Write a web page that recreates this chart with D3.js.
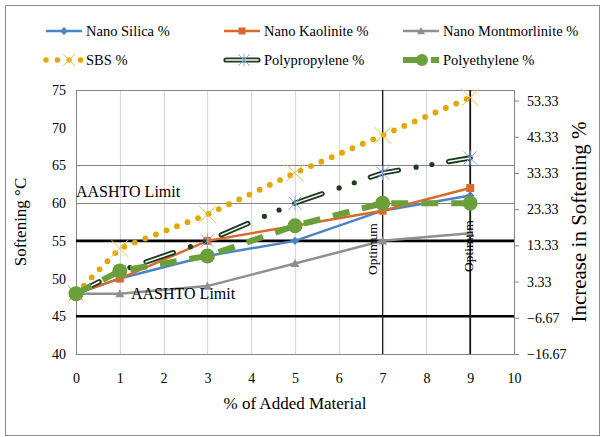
<!DOCTYPE html>
<html>
<head>
<meta charset="utf-8">
<script src="https://cdn.jsdelivr.net/npm/d3@7/dist/d3.min.js"></script>
<style>
  html, body { margin: 0; padding: 0; background: #fff; }
  svg { display: block; }
  svg text { font-family: "Liberation Serif", "Times New Roman", serif !important; fill: #000; }
</style>
</head>
<body>
<svg id="chart" width="605" height="437" font-family="Liberation Serif, serif"></svg>
<script>
// Added material content (%)
const additions = [0, 1, 3, 5, 7, 9];

// Softening point (°C) for each additive
const nanoSilica        = [48, 50, 53, 55, 59, 61];
const nanoKaolinite     = [48, 50, 55, 57, 59, 62];
const nanoMontmorlinite = [48, 48, 49, 52, 55, 56];
const sbs               = [48, 54, 58.5, 64, 69, 74];
const polypropylene     = [48, 51, 55, 60, 64, 66];
const polyethylene      = [48, 51, 53, 57, 60, 60];

const seriesNames = ["Nano Silica %", "Nano Kaolinite %", "Nano Montmorlinite %",
                     "SBS %", "Polypropylene %", "Polyethylene %"];

// Axis ticks
const xTicks = [0, 1, 2, 3, 4, 5, 6, 7, 8, 9, 10];
const leftTicks = [40, 45, 50, 55, 60, 65, 70, 75];
const rightTicks = [-16.67, -6.67, 3.33, 13.33, 23.33, 33.33, 43.33, 53.33];

// Reference lines
const aashtoLimits = [45, 55];
const optimumPoints = [7, 9];
const gridLevels = [60, 65];

const svg = d3.select("#chart");
const serif = "Liberation Serif, Times New Roman, serif";

const x = d3.scaleLinear().domain([0, 10]).range([76, 514]);
const y = d3.scaleLinear().domain([40, 75]).range([354, 90]);
const y2 = d3.scaleLinear().domain([-16.67, 56.25]).range([354, 90]);

// chart frame
svg.append("rect")
  .attr("x", 5.5).attr("y", 5.5).attr("width", 594).attr("height", 430)
  .attr("fill", "#fff").attr("stroke", "#8c8c8c").attr("stroke-width", 1);

// vertical gridlines
svg.append("g").selectAll("line")
  .data(xTicks.filter(d => d > 0))
  .join("line")
  .attr("x1", d => Math.round(x(d)) + 0.5).attr("x2", d => Math.round(x(d)) + 0.5)
  .attr("y1", y(75)).attr("y2", y(40))
  .attr("stroke", "#d9d9d9").attr("stroke-width", 1.2);

// horizontal gridlines
svg.append("g").selectAll("line")
  .data(gridLevels)
  .join("line")
  .attr("x1", x(0)).attr("x2", x(10))
  .attr("y1", d => Math.round(y(d)) + 0.5).attr("y2", d => Math.round(y(d)) + 0.5)
  .attr("stroke", "#868686").attr("stroke-width", 1);

// plot top edge
svg.append("line")
  .attr("x1", x(0)).attr("x2", x(10)).attr("y1", 90.5).attr("y2", 90.5)
  .attr("stroke", "#868686");

// axis lines
svg.append("line").attr("x1", 76.5).attr("x2", 76.5).attr("y1", y(75)).attr("y2", y(40))
  .attr("stroke", "#868686");
svg.append("line").attr("x1", 514.5).attr("x2", 514.5).attr("y1", y(75)).attr("y2", y(40))
  .attr("stroke", "#868686");
svg.append("line").attr("x1", x(0)).attr("x2", x(10)).attr("y1", 354.5).attr("y2", 354.5)
  .attr("stroke", "#868686");

// AASHTO limit lines
svg.append("g").selectAll("line")
  .data(aashtoLimits)
  .join("line")
  .attr("x1", x(0)).attr("x2", x(10))
  .attr("y1", d => y(d)).attr("y2", d => y(d))
  .attr("stroke", "#000").attr("stroke-width", 2.6);

// optimum lines
svg.append("g").selectAll("line")
  .data(optimumPoints)
  .join("line")
  .attr("x1", d => x(d)).attr("x2", d => x(d))
  .attr("y1", y(75)).attr("y2", y(40))
  .attr("stroke", "#1a1a1a").attr("stroke-width", (d, i) => i === 0 ? 1.2 : 1.8);

// axes
const fontSize = 14;
const leftAxis = svg.append("g").attr("transform", "translate(76,0)")
  .call(d3.axisLeft(y).tickValues(leftTicks).tickSize(0).tickPadding(10));
const bottomAxis = svg.append("g").attr("transform", "translate(0,354)")
  .call(d3.axisBottom(x).tickValues(xTicks).tickSize(0).tickPadding(19));
const rightAxis = svg.append("g").attr("transform", "translate(514,0)")
  .call(d3.axisRight(y2).tickValues(rightTicks).tickSize(5).tickPadding(8)
    .tickFormat(d3.format(".2f")));
[leftAxis, bottomAxis, rightAxis].forEach(g => {
  g.attr("font-family", serif).attr("font-size", fontSize);
  g.select(".domain").remove();
  g.selectAll("text").attr("font-family", serif)
    .attr("font-size", fontSize).attr("fill", "#000");
  g.selectAll(".tick line").attr("stroke", "#868686");
});

// line generator
const lineGen = vals => d3.line().x((d, i) => x(additions[i])).y(d => y(d))(vals);
const pts = vals => vals.map((v, i) => [x(additions[i]), y(v)]);

// marker shapes
function diamond(g, cx, cy, r, color) {
  g.append("path").attr("d", `M${cx},${cy - r}L${cx + r},${cy}L${cx},${cy + r}L${cx - r},${cy}Z`)
    .attr("fill", color);
}
function square(g, cx, cy, s, color) {
  g.append("rect").attr("x", cx - s / 2).attr("y", cy - s / 2).attr("width", s).attr("height", s)
    .attr("fill", color);
}
function triangle(g, cx, cy, r, color) {
  g.append("path").attr("d", `M${cx},${cy - r}L${cx + r},${cy + r * 0.8}L${cx - r},${cy + r * 0.8}Z`)
    .attr("fill", color);
}
function cross(g, cx, cy, r, color) {
  g.append("path").attr("d", `M${cx - r},${cy - r}L${cx + r},${cy + r}M${cx - r},${cy + r}L${cx + r},${cy - r}`)
    .attr("stroke", color).attr("stroke-width", 1).attr("fill", "none");
}
function star(g, cx, cy, r, color) {
  g.append("path").attr("d",
    `M${cx - r},${cy - r}L${cx + r},${cy + r}M${cx - r},${cy + r}L${cx + r},${cy - r}M${cx},${cy - r * 1.1}L${cx},${cy + r * 1.1}`)
    .attr("stroke", color).attr("stroke-width", 1).attr("fill", "none");
}
function dot(g, cx, cy, r, color) {
  g.append("circle").attr("cx", cx).attr("cy", cy).attr("r", r).attr("fill", color);
}

const colors = {
  silica: "#4a84c6",
  kaolinite: "#da6a2c",
  montmorlinite: "#8f8f8f",
  sbs: "#e0a800",
  sbsMarker: "#f0c24a",
  pp: "#1e3b1e",
  ppMarker: "#7ea4dc",
  pe: "#6b9f3a"
};

const plot = svg.append("g");

// Nano Silica
plot.append("path").attr("d", lineGen(nanoSilica)).attr("fill", "none")
  .attr("stroke", colors.silica).attr("stroke-width", 2.5);
pts(nanoSilica).forEach(p => diamond(plot, p[0], p[1], 4.2, colors.silica));

// Nano Kaolinite
plot.append("path").attr("d", lineGen(nanoKaolinite)).attr("fill", "none")
  .attr("stroke", colors.kaolinite).attr("stroke-width", 2.5);
pts(nanoKaolinite).forEach(p => square(plot, p[0], p[1], 8, colors.kaolinite));

// Nano Montmorlinite
plot.append("path").attr("d", lineGen(nanoMontmorlinite)).attr("fill", "none")
  .attr("stroke", colors.montmorlinite).attr("stroke-width", 2.5);
pts(nanoMontmorlinite).forEach(p => triangle(plot, p[0], p[1], 4.5, colors.montmorlinite));

// SBS — round dotted line with cross markers
plot.append("path").attr("d", lineGen(sbs)).attr("fill", "none")
  .attr("stroke", colors.sbs).attr("stroke-width", 5.8)
  .attr("stroke-linecap", "round").attr("stroke-dasharray", "0 11.3");
pts(sbs).forEach(p => cross(plot, p[0], p[1], 8.5, colors.sbsMarker));

// Polypropylene — compound long-dash-dot-dot line with star markers
const ppPath = lineGen(polypropylene);
plot.append("path").attr("d", ppPath).attr("fill", "none")
  .attr("stroke", colors.pp).attr("stroke-width", 5.2)
  .attr("stroke-linecap", "round")
  .attr("stroke-dasharray", "29 18 0 16 0 17").attr("stroke-dashoffset", 3);
plot.append("path").attr("d", ppPath).attr("fill", "none")
  .attr("stroke", "#fff").attr("stroke-width", 1.5)
  .attr("stroke-linecap", "round")
  .attr("stroke-dasharray", "29 51").attr("stroke-dashoffset", 3);
pts(polypropylene).forEach(p => star(plot, p[0], p[1], 6.5, colors.ppMarker));

// Polyethylene — long dashed line with circles
plot.append("path").attr("d", lineGen(polyethylene)).attr("fill", "none")
  .attr("stroke", colors.pe).attr("stroke-width", 6)
  .attr("stroke-dasharray", "17 13");
pts(polyethylene).forEach(p => dot(plot, p[0], p[1], 7.5, colors.pe));

// annotations
const ann = svg.append("g").attr("font-size", 16).attr("font-family", serif);
ann.append("text").attr("x", 76).attr("y", 197).text("AASHTO Limit");
ann.append("text").attr("x", 131).attr("y", 299).text("AASHTO Limit");
svg.append("text").attr("font-size", 13.5).attr("font-family", serif)
  .attr("transform", `translate(${x(7) - 6},275) rotate(-90)`).text("Optimum");
svg.append("text").attr("font-size", 13.5).attr("font-family", serif)
  .attr("transform", `translate(${x(9) + 3},272) rotate(-90)`).text("Optimum");

// axis titles
svg.append("text").attr("font-size", 17).attr("text-anchor", "middle").attr("font-family", serif)
  .attr("x", 295).attr("y", 409).text("% of Added Material");
svg.append("text").attr("font-size", 17).attr("text-anchor", "middle").attr("font-family", serif)
  .attr("transform", "translate(26,222) rotate(-90)").text("Softening °C");
svg.append("text").attr("font-size", 21).attr("text-anchor", "middle").attr("font-family", serif)
  .attr("transform", "translate(586,222) rotate(-90)").text("Increase in Softening %");

// legend
const legend = svg.append("g").attr("font-size", 14.5).attr("font-family", serif);
const legendCols = [46, 224, 403];
const legendRows = [31, 60];
const sampleLen = 36;
function legendItem(i, drawSample) {
  const cx = legendCols[i % 3], cy = legendRows[Math.floor(i / 3)];
  const g = legend.append("g");
  drawSample(g, cx, cy);
  g.append("text").attr("x", cx + sampleLen + 4).attr("y", cy + 5).text(seriesNames[i]);
}
legendItem(0, (g, cx, cy) => {
  g.append("line").attr("x1", cx).attr("x2", cx + sampleLen).attr("y1", cy).attr("y2", cy)
    .attr("stroke", colors.silica).attr("stroke-width", 2.5);
  diamond(g, cx + sampleLen / 2, cy, 4, colors.silica);
});
legendItem(1, (g, cx, cy) => {
  g.append("line").attr("x1", cx).attr("x2", cx + sampleLen).attr("y1", cy).attr("y2", cy)
    .attr("stroke", colors.kaolinite).attr("stroke-width", 2.5);
  square(g, cx + sampleLen / 2, cy, 7, colors.kaolinite);
});
legendItem(2, (g, cx, cy) => {
  g.append("line").attr("x1", cx).attr("x2", cx + sampleLen).attr("y1", cy).attr("y2", cy)
    .attr("stroke", colors.montmorlinite).attr("stroke-width", 2.5);
  triangle(g, cx + sampleLen / 2, cy, 4, colors.montmorlinite);
});
legendItem(3, (g, cx, cy) => {
  g.append("line").attr("x1", cx).attr("x2", cx + sampleLen).attr("y1", cy).attr("y2", cy)
    .attr("stroke", colors.sbs).attr("stroke-width", 5.5)
    .attr("stroke-linecap", "round").attr("stroke-dasharray", "0 11.5");
  cross(g, cx + 23, cy, 6, colors.sbsMarker);
});
legendItem(4, (g, cx, cy) => {
  g.append("line").attr("x1", cx + 2).attr("x2", cx + sampleLen - 2).attr("y1", cy).attr("y2", cy)
    .attr("stroke", colors.pp).attr("stroke-width", 5.2).attr("stroke-linecap", "round");
  g.append("line").attr("x1", cx + 2).attr("x2", cx + sampleLen - 2).attr("y1", cy).attr("y2", cy)
    .attr("stroke", "#fff").attr("stroke-width", 1.5).attr("stroke-linecap", "round");
  star(g, cx + 20, cy, 5.5, colors.ppMarker);
});
legendItem(5, (g, cx, cy) => {
  g.append("line").attr("x1", cx).attr("x2", cx + sampleLen).attr("y1", cy).attr("y2", cy)
    .attr("stroke", colors.pe).attr("stroke-width", 6).attr("stroke-dasharray", "18 10 10");
  dot(g, cx + 19, cy, 6, colors.pe);
});
</script>
</body>
</html>
